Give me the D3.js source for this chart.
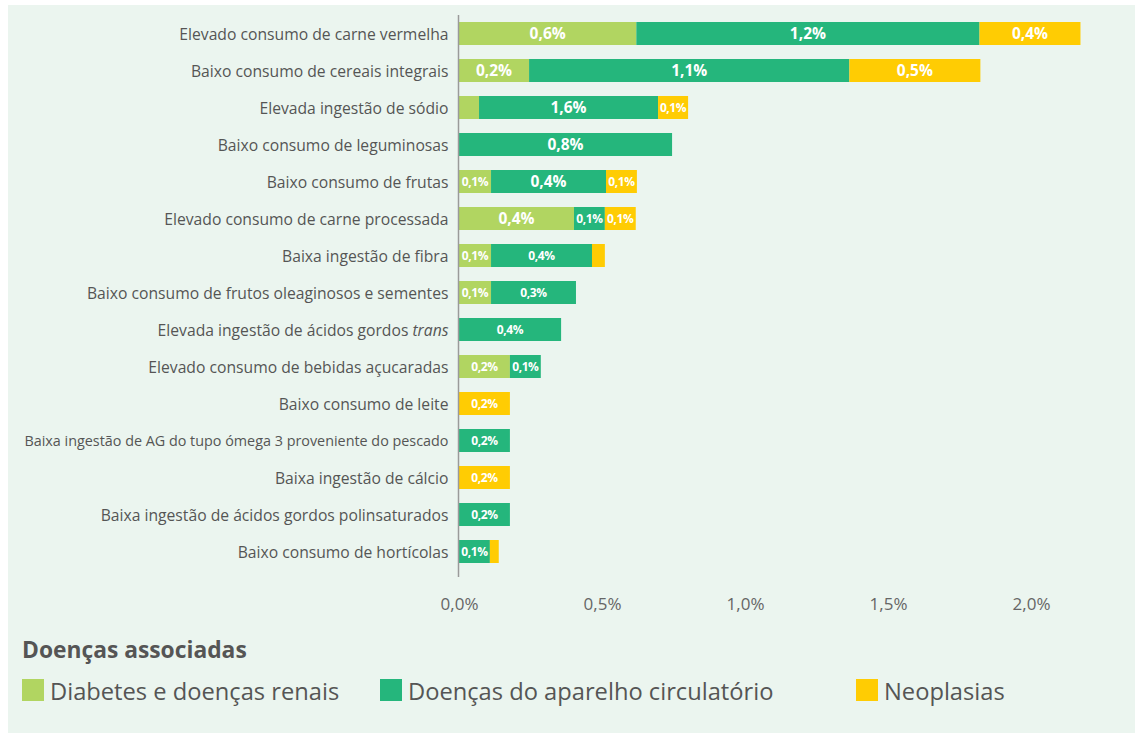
<!DOCTYPE html>
<html>
<head>
<meta charset="utf-8">
<script src="https://cdn.jsdelivr.net/npm/d3@7"></script>
<style>
   body { margin: 0; background: #ffffff; }
   svg { display: block; font-family: "Open Sans", sans-serif; }
</style>
</head>
<body>
<div id="chart"></div>
<script>
// Categories (top to bottom)
const categories = [
   "Elevado consumo de carne vermelha",
   "Baixo consumo de cereais integrais",
   "Elevada ingestão de sódio",
   "Baixo consumo de leguminosas",
   "Baixo consumo de frutas",
   "Elevado consumo de carne processada",
   "Baixa ingestão de fibra",
   "Baixo consumo de frutos oleaginosos e sementes",
   "Elevada ingestão de ácidos gordos trans",
   "Elevado consumo de bebidas açucaradas",
   "Baixo consumo de leite",
   "Baixa ingestão de AG do tupo ómega 3 proveniente do pescado",
   "Baixa ingestão de cálcio",
   "Baixa ingestão de ácidos gordos polinsaturados",
   "Baixo consumo de hortícolas"
];

// Series values (%)
const diabetes     = [0.62, 0.245, 0.07, 0, 0.112, 0.402, 0.112, 0.112, 0, 0.178, 0, 0, 0, 0, 0];
const circulatorio = [1.2, 1.12, 0.626, 0.745, 0.402, 0.108, 0.353, 0.297, 0.357, 0.108, 0, 0.178, 0, 0.178, 0.108];
const neoplasias   = [0.353, 0.458, 0.105, 0, 0.108, 0.108, 0.045, 0, 0, 0, 0.178, 0, 0.178, 0, 0.031];

// Labels as printed on the bars
const diabetesLabels     = ["0,6%", "0,2%", "", "", "0,1%", "0,4%", "0,1%", "0,1%", "", "0,2%", "", "", "", "", ""];
const circulatorioLabels = ["1,2%", "1,1%", "1,6%", "0,8%", "0,4%", "0,1%", "0,4%", "0,3%", "0,4%", "0,1%", "", "0,2%", "", "0,2%", "0,1%"];
const neoplasiasLabels   = ["0,4%", "0,5%", "0,1%", "", "0,1%", "0,1%", "", "", "", "", "0,2%", "", "0,2%", "", ""];

const seriesNames = ["Diabetes e doenças renais", "Doenças do aparelho circulatório", "Neoplasias"];
const tickValues = [0, 0.5, 1, 1.5, 2];
const legendTitle = "Doenças associadas";

const colors = ["#b1d561", "#25b67c", "#ffcc03"];
const width = 1135, height = 734;
const maxLabelWidth = 424;
const labelSize = 15.7;

// Build table for stacking
const keys = ["diabetes", "circulatorio", "neoplasias"];
const table = categories.map((c, i) => ({
   category: c,
   diabetes: diabetes[i],
   circulatorio: circulatorio[i],
   neoplasias: neoplasias[i]
}));
const labelSets = [diabetesLabels, circulatorioLabels, neoplasiasLabels];

const svg = d3.select("#chart").append("svg")
   .attr("width", width)
   .attr("height", height);

// Panel background
svg.append("rect")
   .attr("x", 8).attr("y", 5)
   .attr("width", width - 8).attr("height", 728)
   .attr("fill", "#ebf5ef");

// Scales
const x = d3.scaleLinear().domain([0, 2]).range([459, 1031]);
const y = d3.scaleBand()
   .domain(categories)
   .range([15, 15 + 15 * 37])
   .paddingInner(14 / 37)
   .paddingOuter(7 / 37);

// Stacked bars
const stacked = d3.stack().keys(keys)(table);

const layers = svg.append("g").attr("class", "bars")
   .selectAll("g")
   .data(stacked)
   .join("g")
   .attr("fill", (d, i) => colors[i]);

layers.selectAll("rect")
   .data(d => d.filter(s => s[1] - s[0] > 0))
   .join("rect")
   .attr("x", d => x(d[0]))
   .attr("y", d => y(d.data.category))
   .attr("width", d => x(d[1]) - x(d[0]))
   .attr("height", y.bandwidth());

// Value labels
const labelG = svg.append("g").attr("class", "value-labels");
stacked.forEach((layer, k) => {
   layer.forEach((s, i) => {
      const txt = labelSets[k][i];
      if (!txt) return;
      const w = x(s[1]) - x(s[0]);
      const large = i < 6 && w > 40;
      labelG.append("text")
         .attr("x", (x(s[0]) + x(s[1])) / 2)
         .attr("y", y(categories[i]) + y.bandwidth() / 2)
         .attr("dy", "0.36em")
         .attr("text-anchor", "middle")
         .attr("fill", "#ffffff")
         .attr("font-weight", "bold")
         .attr("font-size", large ? 15.5 : 12)
         .attr("letter-spacing", large ? 0 : -0.4)
         .text(txt);
   });
});

// Left axis with category labels
const yAxis = svg.append("g")
   .attr("transform", "translate(458.5,0)")
   .call(d3.axisLeft(y).tickSize(0).tickPadding(10));
yAxis.select(".domain").remove();
yAxis.selectAll("text")
   .attr("fill", "#555555")
   .attr("font-size", labelSize)
   .attr("font-family", "'Open Sans', sans-serif")
   .attr("dy", "0.4em")
   .each(function (d) {
      const t = d3.select(this);
      if (d.endsWith(" trans")) {
         t.text(d.replace(/trans$/, ""));
         t.append("tspan").attr("font-style", "italic").text("trans");
      }
      // shrink labels that are too long
      const len = this.getComputedTextLength();
      if (len > maxLabelWidth) {
         t.attr("font-size", labelSize * maxLabelWidth / len);
      }
   });

svg.append("line")
   .attr("x1", 458.5).attr("x2", 458.5)
   .attr("y1", 15).attr("y2", 577)
   .attr("stroke", "#9a9a9a")
   .attr("stroke-width", 1.5);

// Bottom axis
const xAxis = svg.append("g")
   .attr("transform", "translate(0,590)")
   .call(d3.axisBottom(x).tickValues(tickValues).tickSize(0).tickPadding(0)
      .tickFormat(d => d3.format(".1f")(d).replace(".", ",") + "%"));
xAxis.select(".domain").remove();
xAxis.selectAll("text")
   .attr("fill", "#666666")
   .attr("font-size", 17)
   .attr("font-family", "'Open Sans', sans-serif")
   .attr("dy", "1.15em");

// Legend
svg.append("text")
   .attr("x", 22).attr("y", 658)
   .attr("fill", "#555555")
   .attr("font-size", 22.8)
   .attr("font-weight", "bold")
   .text(legendTitle);

const legendX = [22, 380, 856];
const legend = svg.append("g").selectAll("g")
   .data(seriesNames)
   .join("g")
   .attr("transform", (d, i) => `translate(${legendX[i]},679)`);
legend.append("rect")
   .attr("width", 22).attr("height", 22)
   .attr("fill", (d, i) => colors[i]);
legend.append("text")
   .attr("x", 28).attr("y", 21)
   .attr("fill", "#555555")
   .attr("font-size", 23.7)
   .text(d => d);
</script>
</body>
</html>
